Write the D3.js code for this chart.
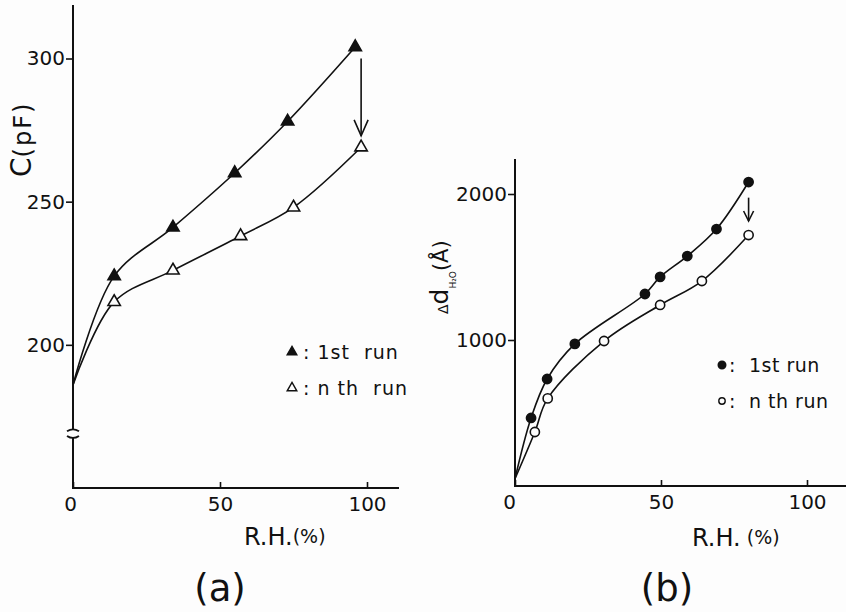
<!DOCTYPE html>
<html>
  <head>
    <meta charset="utf-8" />
    <script src="https://d3js.org/d3.v7.min.js"></script>
    <style>
      body { margin: 0; background: #fdfdfd; }
      text { font-family: "DejaVu Sans", sans-serif; fill: #111; }
    </style>
  </head>
  <body>
    <div id="chart"></div>
    <script>
      // (a) capacitance vs humidity; first point of each run is the curve start (no marker)
      var rhA1 = [0, 14, 34, 55, 73, 96];
      var capA1 = [186, 224, 241, 260, 278, 304];
      var rhAn = [0, 14, 34, 57, 75, 98];
      var capAn = [186, 215, 226, 238, 248, 269];
      var ticksAx = [0, 50, 100];
      var ticksAy = [200, 250, 300];
      var breakA = 169; // axis break value
      var arrowA = { x: 98, from: 300, to: 273 };

      // (b) water layer thickness vs humidity
      var rhB1 = [0, 5.5, 11, 20.5, 44.5, 49.7, 59, 69, 80];
      var thkB1 = [50, 466, 733, 973, 1315, 1432, 1575, 1760, 2082];
      var rhBn = [0, 6.8, 11.2, 30.5, 49.7, 64, 80];
      var thkBn = [50, 370, 600, 993, 1240, 1404, 1719];
      var ticksBx = [0, 50, 100];
      var ticksBy = [1000, 2000];
      var arrowB = { x: 80, from: 1975, to: 1815 };

      var width = 846,
        height = 612;

      var svg = d3
        .select("#chart")
        .append("svg")
        .attr("width", width)
        .attr("height", height);

      svg.append("rect").attr("width", width).attr("height", height).attr("fill", "#fdfdfd");

      var xA = d3.scaleLinear().domain([0, 100]).range([73, 367]);
      var yA = d3.scaleLinear().domain([150, 300]).range([488, 58.5]);
      var xB = d3.scaleLinear().domain([0, 100]).range([515, 807]);
      var yB = d3.scaleLinear().domain([0, 2000]).range([486, 194]);

      function zip(xs, ys) {
        return xs.map(function (d, i) {
          return [d, ys[i]];
        });
      }

      // ---------- panel (a) ----------
      var ga = svg.append("g");

      // axes lines (with break on y)
      ga.append("line")
        .attr("x1", xA(0)).attr("x2", xA(0))
        .attr("y1", 5).attr("y2", yA(breakA + 1.5))
        .attr("stroke", "#111").attr("stroke-width", 2);
      ga.append("line")
        .attr("x1", xA(0)).attr("x2", xA(0))
        .attr("y1", yA(breakA - 1.5)).attr("y2", yA(150))
        .attr("stroke", "#111").attr("stroke-width", 2);
      [breakA + 1.5, breakA - 1.5].forEach(function (v, i) {
        var y0 = yA(v);
        var c = i === 0 ? 2 : -2;
        ga.append("path")
          .attr("d", "M" + (xA(0) - 6) + "," + (y0 + c) + " Q" + xA(0) + "," + (y0 - c) + " " + (xA(0) + 6) + "," + (y0 + c))
          .attr("fill", "none").attr("stroke", "#111").attr("stroke-width", 1.8);
      });
      ga.append("line")
        .attr("x1", xA(0) - 1).attr("x2", 399)
        .attr("y1", yA(150)).attr("y2", yA(150))
        .attr("stroke", "#111").attr("stroke-width", 2);

      var axAx = ga.append("g")
        .attr("transform", "translate(0," + yA(150) + ")")
        .call(d3.axisBottom(xA).tickValues(ticksAx).tickSize(-6).tickPadding(9));
      var axAy = ga.append("g")
        .attr("transform", "translate(" + xA(0) + ",0)")
        .call(d3.axisLeft(yA).tickValues(ticksAy).tickSize(7).tickPadding(1));
      [axAx, axAy].forEach(function (g) {
        g.select(".domain").remove();
        g.selectAll(".tick line").attr("stroke", "#111").attr("stroke-width", 1.6);
        g.selectAll(".tick text").style("font-size", "20px").attr("fill", "#111");
      });
      axAx.selectAll(".tick text").filter(function (d) { return d === 0; }).attr("dx", -3);

      var lineA = d3.line()
        .x(function (d) { return xA(d[0]); })
        .y(function (d) { return yA(d[1]); })
        .curve(d3.curveCatmullRom.alpha(0.5));

      var tri = d3.symbol().type(d3.symbolTriangle).size(66);

      [[zip(rhA1, capA1), "#111"], [zip(rhAn, capAn), "#fdfdfd"]].forEach(function (s) {
        ga.append("path")
          .attr("d", lineA(s[0]))
          .attr("fill", "none").attr("stroke", "#111").attr("stroke-width", 1.6);
        ga.selectAll(null)
          .data(s[0].slice(1))
          .enter()
          .append("path")
          .attr("d", tri)
          .attr("transform", function (d) { return "translate(" + xA(d[0]) + "," + yA(d[1]) + ")"; })
          .attr("fill", s[1]).attr("stroke", "#111").attr("stroke-width", 1.6);
      });

      // arrow
      ga.append("line")
        .attr("x1", xA(arrowA.x)).attr("x2", xA(arrowA.x))
        .attr("y1", yA(arrowA.from)).attr("y2", yA(arrowA.to))
        .attr("stroke", "#111").attr("stroke-width", 1.6);
      ga.append("path")
        .attr("d", "M" + (xA(arrowA.x) - 7) + "," + (yA(arrowA.to) - 16) + " L" + xA(arrowA.x) + "," + yA(arrowA.to) + " L" + (xA(arrowA.x) + 7) + "," + (yA(arrowA.to) - 16))
        .attr("fill", "none").attr("stroke", "#111").attr("stroke-width", 1.6);

      // legend (a)
      var legA = ga.append("g");
      [["1st  run", "#111", 352], ["n th  run", "#fdfdfd", 388]].forEach(function (l) {
        legA.append("path")
          .attr("d", d3.symbol().type(d3.symbolTriangle).size(40))
          .attr("transform", "translate(292," + l[2] + ")")
          .attr("fill", l[1]).attr("stroke", "#111").attr("stroke-width", 1.4);
        legA.append("text")
          .attr("x", 303).attr("y", l[2] + 7)
          .style("font-size", "19px").style("letter-spacing", "1px")
          .style("white-space", "pre")
          .text(": " + l[0]);
      });

      // labels (a)
      var rhLabA = ga.append("text").attr("x", 244).attr("y", 545).style("font-size", "24px");
      rhLabA.append("tspan").text("R.H.");
      rhLabA.append("tspan").style("font-size", "19px").attr("dy", -2).text("(%)");

      var cLab = ga.append("text")
        .attr("transform", "translate(31,177) rotate(-90)");
      cLab.append("tspan").style("font-size", "28px").text("C");
      cLab.append("tspan").style("font-size", "24px").style("letter-spacing", "2px").text("(pF)");

      ga.append("text").attr("x", 220).attr("y", 601)
        .attr("text-anchor", "middle").style("font-size", "37px").text("(a)");

      // ---------- panel (b) ----------
      var gb = svg.append("g");
      gb.append("line")
        .attr("x1", xB(0)).attr("x2", xB(0))
        .attr("y1", 159).attr("y2", yB(0))
        .attr("stroke", "#111").attr("stroke-width", 2);
      gb.append("line")
        .attr("x1", xB(0) - 1).attr("x2", width)
        .attr("y1", yB(0)).attr("y2", yB(0))
        .attr("stroke", "#111").attr("stroke-width", 2);

      var axBx = gb.append("g")
        .attr("transform", "translate(0," + yB(0) + ")")
        .call(d3.axisBottom(xB).tickValues(ticksBx).tickSize(-6).tickPadding(9));
      var axBy = gb.append("g")
        .attr("transform", "translate(" + xB(0) + ",0)")
        .call(d3.axisLeft(yB).tickValues(ticksBy).tickFormat(d3.format("d")).tickSize(7).tickPadding(1));
      [axBx, axBy].forEach(function (g) {
        g.select(".domain").remove();
        g.selectAll(".tick line").attr("stroke", "#111").attr("stroke-width", 1.6);
        g.selectAll(".tick text").style("font-size", "20px").attr("fill", "#111");
      });
      axBx.selectAll(".tick text").filter(function (d) { return d === 0; }).attr("dx", -6);

      var lineB = d3.line()
        .x(function (d) { return xB(d[0]); })
        .y(function (d) { return yB(d[1]); })
        .curve(d3.curveCatmullRom.alpha(0.5));

      [[zip(rhB1, thkB1), "#111"], [zip(rhBn, thkBn), "#fdfdfd"]].forEach(function (s) {
        gb.append("path")
          .attr("d", lineB(s[0]))
          .attr("fill", "none").attr("stroke", "#111").attr("stroke-width", 1.6);
        gb.selectAll(null)
          .data(s[0].slice(1))
          .enter()
          .append("circle")
          .attr("cx", function (d) { return xB(d[0]); })
          .attr("cy", function (d) { return yB(d[1]); })
          .attr("r", 4.6)
          .attr("fill", s[1]).attr("stroke", "#111").attr("stroke-width", 1.6);
      });

      gb.append("line")
        .attr("x1", xB(arrowB.x)).attr("x2", xB(arrowB.x))
        .attr("y1", yB(arrowB.from)).attr("y2", yB(arrowB.to))
        .attr("stroke", "#111").attr("stroke-width", 1.6);
      gb.append("path")
        .attr("d", "M" + (xB(arrowB.x) - 5) + "," + (yB(arrowB.to) - 10) + " L" + xB(arrowB.x) + "," + yB(arrowB.to) + " L" + (xB(arrowB.x) + 5) + "," + (yB(arrowB.to) - 10))
        .attr("fill", "none").attr("stroke", "#111").attr("stroke-width", 1.6);

      // legend (b)
      [["1st run", "#111", 365], ["n th run", "#fdfdfd", 401]].forEach(function (l) {
        gb.append("circle")
          .attr("cx", 722).attr("cy", l[2]).attr("r", l[1] === "#111" ? 3.8 : 3.2)
          .attr("fill", l[1]).attr("stroke", "#111").attr("stroke-width", 1.4);
        gb.append("text")
          .attr("x", 729).attr("y", l[2] + 7)
          .style("font-size", "19px").style("letter-spacing", "0.5px")
          .style("white-space", "pre")
          .text(":  " + l[0]);
      });

      var rhLabB = gb.append("text").attr("x", 692).attr("y", 546).style("font-size", "24px");
      rhLabB.append("tspan").text("R.H.");
      rhLabB.append("tspan").style("font-size", "19px").attr("dy", -2).text(" (%)");

      var dLab = gb.append("text")
        .attr("transform", "translate(448,314) rotate(-90)");
      dLab.append("tspan").style("font-size", "14px").text("Δ");
      dLab.append("tspan").style("font-size", "25px").text("d");
      dLab.append("tspan").style("font-size", "9px").attr("dy", 8).text("H₂O");
      dLab.append("tspan").style("font-size", "21px").attr("dy", -8).text("(Å)");

      gb.append("text").attr("x", 667).attr("y", 601)
        .attr("text-anchor", "middle").style("font-size", "37px").text("(b)");
    </script>
  </body>
</html>
